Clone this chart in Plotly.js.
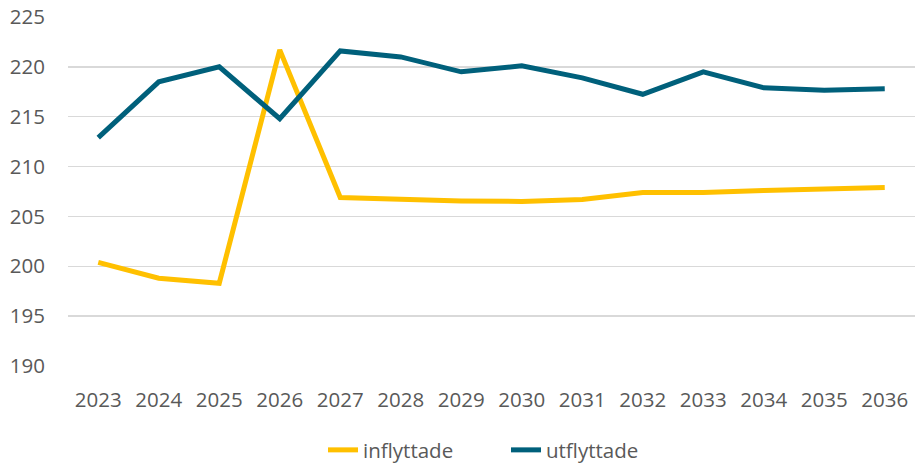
<!DOCTYPE html>
<html>
<head>
<meta charset="utf-8">
<script src="https://cdn.plot.ly/plotly-3.0.1.min.js"></script>
<style>html,body{margin:0;padding:0;background:#fff;}#chart{width:915px;height:463px;}</style>
</head>
<body>
<div id="chart"></div>
<script>
const years = ["2023","2024","2025","2026","2027","2028","2029","2030","2031","2032","2033","2034","2035","2036"];
const inflyttade = [200.4, 198.8, 198.3, 221.7, 206.9, 206.7, 206.55, 206.5, 206.7, 207.4, 207.4, 207.6, 207.7, 207.9];
const utflyttade = [212.9, 218.5, 220.0, 214.8, 221.6, 221.0, 219.5, 220.1, 218.9, 217.25, 219.5, 217.9, 217.65, 217.8];
const yTicks = [190, 195, 200, 205, 210, 215, 220, 225];

const font = {family: "Open Sans, sans-serif", size: 20.5, color: "#595959"};
const traces = [
  {x: years, y: inflyttade, name: "inflyttade", type: "scatter", mode: "lines",
   line: {color: "#FFC000", width: 5}},
  {x: years, y: utflyttade, name: "utflyttade", type: "scatter", mode: "lines",
   line: {color: "#00607B", width: 5}}
];
const layout = {
  width: 915, height: 463,
  margin: {l: 68, r: 0, t: 17, b: 97, autoexpand: false},
  paper_bgcolor: "#fff", plot_bgcolor: "#fff",
  font: font,
  showlegend: true,
  legend: {orientation: "h", xref: "container", x: 0.553, xanchor: "center",
           yref: "container", y: 0.028, yanchor: "middle",
           font: font, itemwidth: 30, traceorder: "normal", entrywidth: 138},
  xaxis: {type: "category", range: [-0.5, 13.5], showgrid: false, zeroline: false,
          showline: false, ticks: "", tickfont: font, ticklabelstandoff: 19, automargin: false},
  yaxis: {range: [190, 225], tickvals: yTicks, ticktext: yTicks.map(String),
          showgrid: true, gridcolor: "#D9D9D9", gridwidth: 1.5, zeroline: false,
          showline: false, ticks: "", tickfont: font, ticklabelstandoff: 22, automargin: false}
};
Plotly.newPlot("chart", traces, layout, {displayModeBar: false, staticPlot: true});
</script>
</body>
</html>
